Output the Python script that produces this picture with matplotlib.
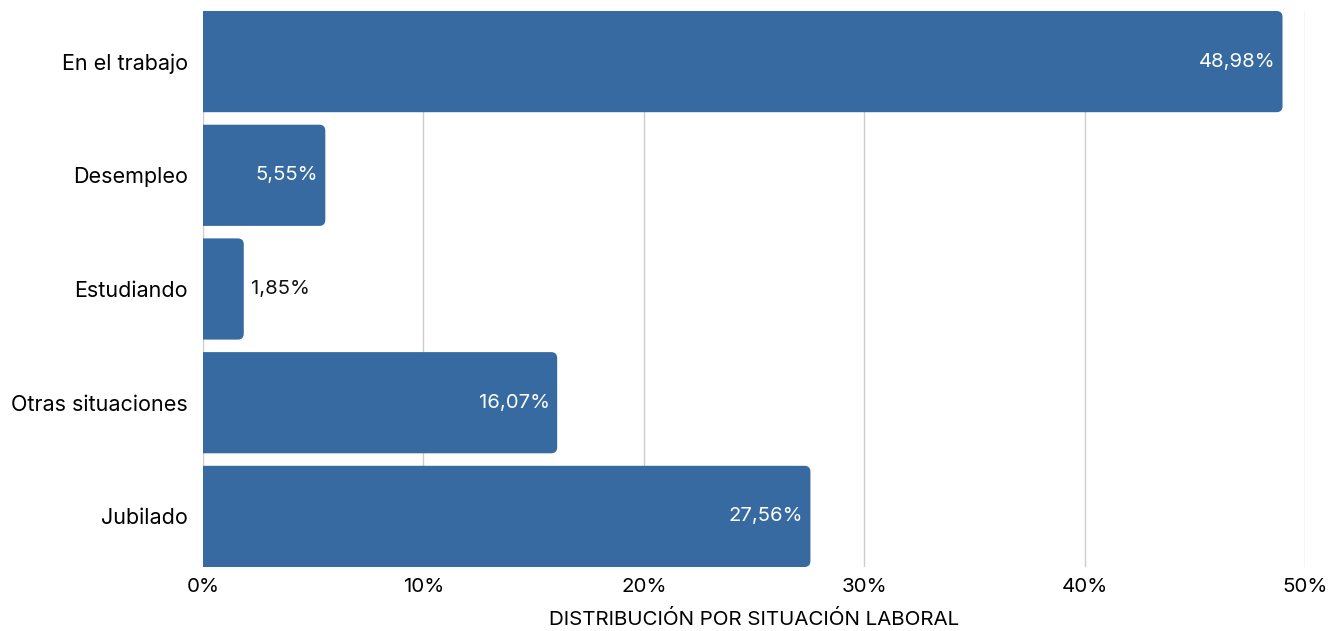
import matplotlib
matplotlib.use("Agg")
import matplotlib.pyplot as plt
from matplotlib.patches import FancyBboxPatch

plt.rcParams['font.family'] = ['Inter', 'DejaVu Sans']

categorias = ["En el trabajo", "Desempleo", "Estudiando", "Otras situaciones", "Jubilado"]
valores = [48.98, 5.55, 1.85, 16.07, 27.56]
etiquetas = ["48,98%", "5,55%", "1,85%", "16,07%", "27,56%"]
ticks = [0, 10, 20, 30, 40, 50]
tick_labels = ["0%", "10%", "20%", "30%", "40%", "50%"]

color = '#366aa1'
W, H = 1329, 631
fig = plt.figure(figsize=(W / 100, H / 100), dpi=100)
ax = fig.add_axes([203 / W, 1 - 567 / H, (1305 - 203) / W, (567 - 11) / H])

ax.set_xlim(0, 50)
ax.set_ylim(4.445, -0.445)
bh = 0.89

# px -> data scales, used for corner radius and label offsets
px_x = 50 / (1305 - 203)
px_y = 4.89 / (567 - 11)
r = 6 * px_x
for i, v in enumerate(valores):
    # start left of the axis so the left corners get clipped away (square left edge)
    box = FancyBboxPatch((-1, i - bh / 2), v + 1, bh,
                         boxstyle=f"round,pad=0,rounding_size={r}",
                         mutation_aspect=px_y / px_x,
                         fc=color, ec='none', zorder=3)
    ax.add_patch(box)
    if v > 4:
        ax.text(v - 7 * px_x, i, etiquetas[i], ha='right', va='center',
                color='white', fontsize=14.6, zorder=4)
    else:
        ax.text(v + 7 * px_x, i, etiquetas[i], ha='left', va='center',
                color='#111111', fontsize=14.6, zorder=4)

ax.set_yticks(range(len(categorias)))
ax.set_yticklabels(categorias, fontsize=15.5)
ax.set_xticks(ticks)
ax.set_xticklabels(tick_labels, fontsize=14.8)
ax.tick_params(axis='x', length=0, pad=8)
ax.tick_params(axis='y', length=0, pad=11)
ax.grid(axis='x', color='#cccccc', lw=1, zorder=0)
ax.set_axisbelow(True)
for s in ax.spines.values():
    s.set_visible(False)
ax.set_xlabel("DISTRIBUCIÓN POR SITUACIÓN LABORAL", fontsize=14.8, labelpad=10)

fig.savefig("out.png", dpi=100)
